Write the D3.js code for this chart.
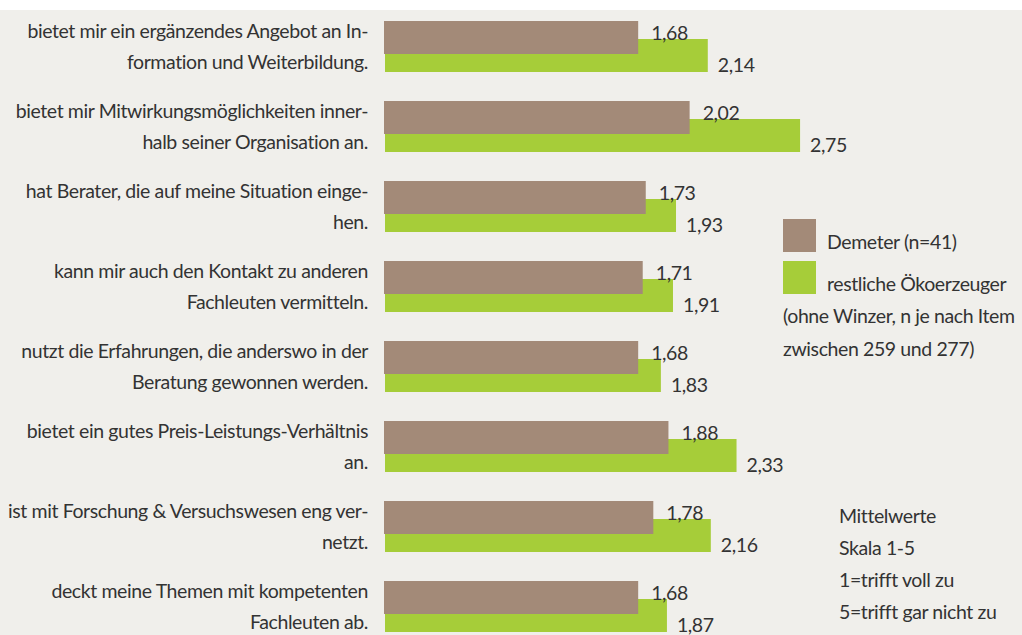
<!DOCTYPE html>
<html>
<head>
<meta charset="utf-8">
<script src="https://cdn.jsdelivr.net/npm/d3@7"></script>
<style>
  body { margin: 0; background: #fff; }
  text { font-family: Lato, "Open Sans", sans-serif; fill: #333; font-size: 19.5px; letter-spacing: -0.4px; }
</style>
</head>
<body>
<div id="chart"></div>
<script>
// items (each is two lines of the label)
const items = [
  ["bietet mir ein ergänzendes Angebot an In-", "formation und Weiterbildung."],
  ["bietet mir Mitwirkungsmöglichkeiten inner-", "halb seiner Organisation an."],
  ["hat Berater, die auf meine Situation einge-", "hen."],
  ["kann mir auch den Kontakt zu anderen", "Fachleuten vermitteln."],
  ["nutzt die Erfahrungen, die anderswo in der", "Beratung gewonnen werden."],
  ["bietet ein gutes Preis-Leistungs-Verhältnis", "an."],
  ["ist mit Forschung & Versuchswesen eng ver-", "netzt."],
  ["deckt meine Themen mit kompetenten", "Fachleuten ab."]
];
const demeter = [1.68, 2.02, 1.73, 1.71, 1.68, 1.88, 1.78, 1.68];
const oeko = [2.14, 2.75, 1.93, 1.91, 1.83, 2.33, 2.16, 1.87];
const legendLabels = ["Demeter (n=41)", "restliche Ökoerzeuger"];
const legendNote = ["(ohne Winzer, n je nach Item", "zwischen 259 und 277)"];
const scaleNote = ["Mittelwerte", "Skala 1-5", "1=trifft voll zu", "5=trifft gar nicht zu"];

const W = 1022, H = 635;
const colBrown = "#a38a78", colGreen = "#a6cd39";
const fmt = v => d3.format(".2f")(v).replace(".", ",");

const svg = d3.select("#chart").append("svg")
  .attr("width", W).attr("height", H);

svg.append("rect")
  .attr("x", 0).attr("y", 10).attr("width", W).attr("height", H - 10)
  .attr("fill", "#f0efeb");

const idx = d3.range(items.length);
const y = d3.scaleBand().domain(idx).range([21, 21 + 80 * items.length]).paddingInner(0);
const x = d3.scaleLinear().domain([0, 5]).range([384, 1140.5]);
const barH = 33;

// green bars (behind)
svg.selectAll(".g").data(idx).enter().append("rect")
  .attr("x", x(0) + 1)
  .attr("y", i => y(i) + 18)
  .attr("width", i => x(oeko[i]) - x(0) - 1)
  .attr("height", barH)
  .attr("fill", colGreen);

// brown bars on top
svg.selectAll(".b").data(idx).enter().append("rect")
  .attr("x", x(0))
  .attr("y", i => y(i))
  .attr("width", i => x(demeter[i]) - x(0))
  .attr("height", barH)
  .attr("fill", colBrown);

// value labels
svg.selectAll(".vb").data(idx).enter().append("text")
  .attr("x", i => x(demeter[i]) + 13)
  .attr("y", i => y(i) + 19)
  .text(i => fmt(demeter[i]));

svg.selectAll(".vg").data(idx).enter().append("text")
  .attr("x", i => x(oeko[i]) + 10)
  .attr("y", i => y(i) + 51)
  .text(i => fmt(oeko[i]));

// category labels
const lab = svg.selectAll(".lab").data(idx).enter().append("text")
  .attr("text-anchor", "end");
lab.append("tspan").attr("x", 368).attr("y", i => y(i) + 17).text(i => items[i][0]);
lab.append("tspan").attr("x", 368).attr("y", i => y(i) + 48).text(i => items[i][1]);

// legend
const leg = svg.append("g");
[colBrown, colGreen].forEach((c, k) => {
  leg.append("rect").attr("x", 783).attr("y", 219 + k * 42)
    .attr("width", 33).attr("height", 33).attr("fill", c);
  leg.append("text").attr("x", 827).attr("y", 249 + k * 42)
    .text(legendLabels[k]);
});
legendNote.forEach((t, k) => {
  leg.append("text").attr("x", 783).attr("y", 323 + k * 33)
    .text(t);
});

scaleNote.forEach((t, k) => {
  svg.append("text").attr("x", 839).attr("y", 523 + k * 32)
    .text(t);
});
</script>
</body>
</html>
